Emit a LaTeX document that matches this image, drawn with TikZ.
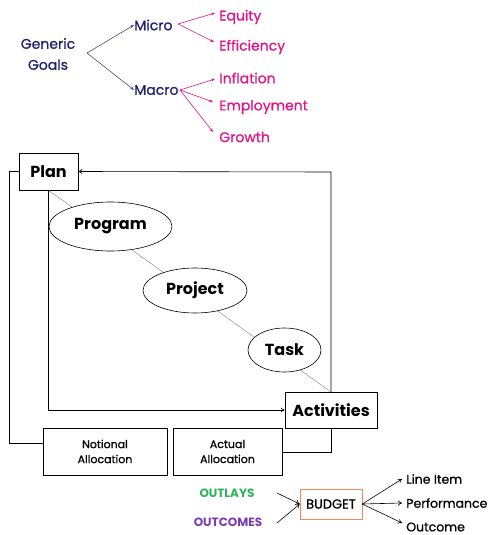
\documentclass[tikz,border=0pt]{standalone}
\usepackage{fontspec}
\setmainfont{Poppins}
\newfontfamily\medf[FakeBold=0.8]{Poppins}
\usetikzlibrary{arrows.meta,shapes.geometric}
\definecolor{navy}{HTML}{1F1F6B}
\definecolor{navyline}{HTML}{4A4A80}
\definecolor{pinkc}{HTML}{E0158A}
\definecolor{greenc}{HTML}{2DB35A}
\definecolor{purplec}{HTML}{7A3DB0}
\definecolor{orangec}{HTML}{F08A5A}
\tikzset{
  goal/.style={text=navy,font=\medf\fontsize{14}{21}\selectfont,inner sep=0pt},
  sub/.style={text=pinkc,font=\medf\fontsize{14}{16}\selectfont,inner sep=0pt,anchor=west},
  navyarr/.style={draw=navyline,-{Stealth[length=4pt,width=3pt]}},
  pinkarr/.style={draw=pinkc,-{Stealth[length=4pt,width=3pt]}},
  bbox/.style={draw,fill=white,inner sep=0pt,font=\bfseries\fontsize{16}{18}\selectfont},
  ell/.style={draw,ellipse,fill=white,inner sep=0pt,font=\bfseries\fontsize{16}{18}\selectfont},
  alloc/.style={draw,fill=white,inner sep=0pt,align=center,font=\medf\fontsize{11}{15}\selectfont},
  blk/.style={-{To[length=4pt,width=5pt]}},
  thin/.style={draw=gray,line width=0.4pt},
  right/.style={font=\medf\fontsize{12.5}{15}\selectfont,inner sep=0pt,anchor=west}
}
\begin{document}
\begin{tikzpicture}[x=1pt,y=-1pt,line width=0.6pt]
\useasboundingbox (0,0) rectangle (489,535);
% top tree
\node[goal,align=center] (gg) at (48,54) {Generic\\Goals};
\coordinate (ggr) at (87,53);
\node[goal,anchor=west] (micro) at (134,25) {Micro};
\node[goal,anchor=west] (macro) at (134,90) {Macro};
\draw[navyarr] (ggr) -- (micro.west);
\draw[navyarr] (ggr) -- (macro.west);
\node[sub] (equity) at (219,17) {Equity};
\node[sub] (eff) at (219,47) {Efficiency};
\node[sub] (infl) at (219,78) {Inflation};
\node[sub] (empl) at (219,107) {Employment};
\node[sub] (grow) at (219,137) {Growth};
\coordinate (mir) at (178,24);
\coordinate (mar) at (180,90);
\draw[pinkarr] (mir) -- (215,13);
\draw[pinkarr] (mir) -- (214,42);
\draw[pinkarr] (mar) -- (215,79);
\draw[pinkarr] (mar) -- (213,102);
\draw[pinkarr] (mar) -- (213,132);
% middle
\node[bbox,minimum width=59pt,minimum height=37pt] (plan) at (48.5,171.5) {Plan};
\node[bbox,minimum width=92pt,minimum height=36pt] (act) at (331,410) {Activities};
\node[alloc,minimum width=124pt,minimum height=47pt] (nota) at (105,451.5) {Notional\\Allocation};
\node[alloc,minimum width=109pt,minimum height=47pt] (acta) at (227.5,451.5) {Actual\\Allocation};
\coordinate (pb) at (48,190);
\coordinate (at) at (331,392);
\draw[thin] (pb) -- (at);
\node[ell,minimum width=123pt,minimum height=49pt] (prog) at (110.5,226.5) {Program};
\node[ell,minimum width=104pt,minimum height=45pt] (proj) at (195,290.5) {Project};
\node[ell,minimum width=73pt,minimum height=44pt] (task) at (284.5,350) {Task};
\draw[blk] (at) -- (331,172) -- (plan.east);
\draw[blk] (pb) -- (48,410) -- (act.west);
\draw (plan.west) -- (9,171.5) -- (9,443) -- (nota.west |- 0,443);
\draw (act.south) -- (331,452) -- (acta.east |- 0,452);
% bottom
\node[text=greenc,font=\bfseries\fontsize{12}{14}\selectfont,inner sep=0pt] (outl) at (227,493) {OUTLAYS};
\node[text=purplec,font=\bfseries\fontsize{12}{14}\selectfont,inner sep=0pt] (outc) at (228,522) {OUTCOMES};
\node[draw=orangec,fill=white,inner sep=0pt,minimum width=62pt,minimum height=30pt,font=\medf\fontsize{13}{15}\selectfont] (bud) at (331,504) {BUDGET};
\draw[blk] (277,493) -- (bud.west);
\draw[blk] (277,523) -- (bud.west);
\node[right] (li) at (406,479) {Line Item};
\node[right] (perf) at (406,503) {Performance};
\node[right] (oc) at (406,527) {Outcome};
\draw[blk] (bud.east) -- (402,479);
\draw[blk] (bud.east) -- (402,503);
\draw[blk] (bud.east) -- (402,523);
\end{tikzpicture}
\end{document}
